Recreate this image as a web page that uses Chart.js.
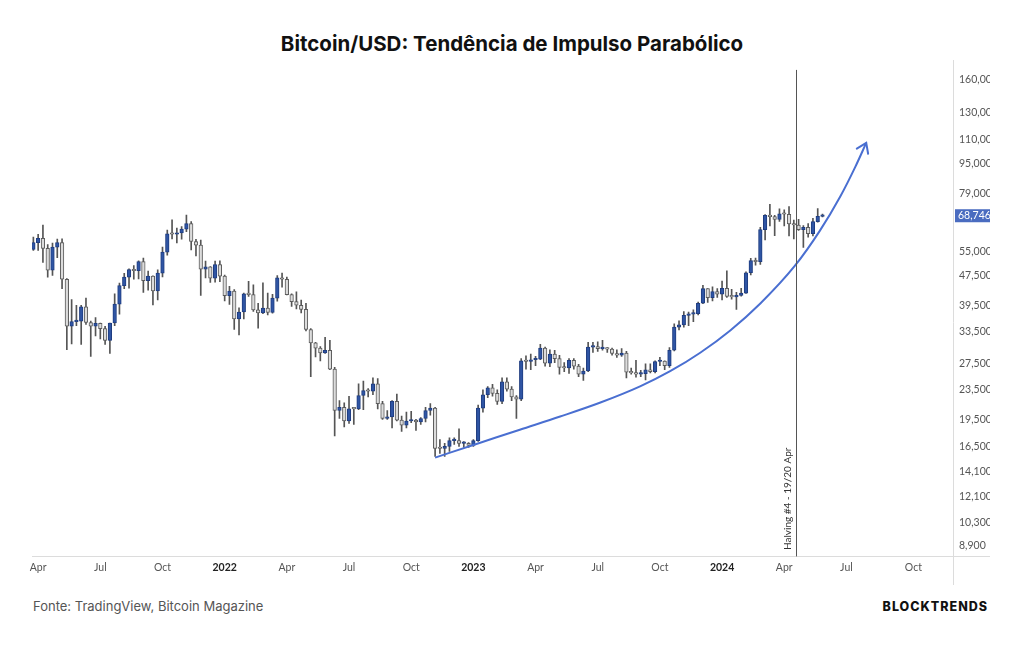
<!DOCTYPE html>
<html lang="pt">
<head>
<meta charset="UTF-8">
<title>Bitcoin/USD: Tendência de Impulso Parabólico</title>
<script src="https://cdn.jsdelivr.net/npm/chart.js@4"></script>
<style>
  body { margin: 0; background: #fff; width: 1024px; height: 645px; overflow: hidden; position: relative; font-family: Inter, "Noto Sans", sans-serif; }
  .title { position: absolute; top: 31px; left: 0; width: 1024px; text-align: center; font-size: 20.5px; font-weight: 700; color: #111; }
  .chart-box { position: absolute; left: 0; top: 58px; width: 990px; height: 532px; }
  .source { position: absolute; left: 33px; top: 598px; font-size: 13px; color: #555; }
  .brand { position: absolute; right: 36px; top: 599px; font-size: 12.5px; font-weight: 800; letter-spacing: 1px; color: #111; }
</style>
</head>
<body>
<div class="title">Bitcoin/USD: Tendência de Impulso Parabólico</div>
<div class="chart-box"><canvas id="btc"></canvas></div>
<div class="source">Fonte: TradingView, Bitcoin Magazine</div>
<div class="brand">BLOCKTRENDS</div>

<script>
// weekly candles, first week starts Monday 2021-03-29 (values in USD thousands)
const firstWeek = '2021-03-29';
const opens = [
  55.8, 58.2, 59.8, 56.2, 49.1, 56.6, 58.2, 46.4, 34.7, 35.7, 35.8, 39.1, 35.5, 34.7, 35.3, 34.2, 31.8, 35.4, 39.8, 44.6,
  47.0, 49.3, 48.9, 51.8, 46.0, 47.3, 43.2, 48.2, 54.9, 61.5, 61.3, 61.8, 63.3, 65.5, 58.6, 57.3, 49.4, 50.1, 46.7, 50.8,
  47.3, 41.9, 43.1, 36.3, 37.9, 42.4, 42.2, 38.4, 37.7, 38.8, 37.8, 41.3, 46.8, 46.4, 42.2, 40.4, 39.5, 38.5, 34.0, 31.3,
  30.3, 29.4, 29.9, 26.6, 20.6, 21.0, 19.3, 20.85, 20.8, 22.6, 23.3, 23.2, 24.3, 21.5, 19.6, 19.8, 21.8, 19.4, 18.8, 19.3,
  19.4, 19.2, 19.6, 20.6, 20.9, 16.3, 16.3, 16.5, 17.1, 17.1, 16.8, 16.8, 16.6, 17.1, 20.9, 22.7, 23.7, 22.9, 21.8, 24.6,
  23.5, 22.4, 22.1, 28.0, 27.9, 28.2, 28.3, 30.3, 27.6, 29.2, 28.4, 26.9, 26.8, 28.1, 27.1, 25.8, 26.3, 30.5, 30.6, 30.2,
  30.3, 30.1, 29.3, 29.0, 29.4, 26.1, 26.0, 25.8, 25.85, 26.5, 26.2, 27.9, 27.95, 27.2, 29.9, 34.5, 35.0, 37.1, 37.4, 37.5,
  40.0, 43.8, 41.4, 43.0, 42.3, 43.9, 41.7, 41.6, 42.0, 42.6, 48.3, 52.1, 51.7, 63.1, 68.9, 68.4, 67.2, 69.6, 69.4, 65.4,
  64.9, 63.1, 64.0, 61.5, 66.3, 68.5
];
const highs = [
  60.2, 61.3, 64.9, 57.5, 58.0, 59.5, 59.6, 46.6, 40.9, 39.5, 39.5, 41.3, 35.8, 36.6, 35.4, 34.7, 35.4, 42.4, 45.3, 48.1,
  49.5, 50.5, 52.0, 52.9, 48.8, 47.4, 49.2, 56.6, 62.9, 67.0, 63.7, 64.3, 69.0, 66.3, 59.4, 59.1, 51.9, 50.2, 51.9, 52.0,
  47.6, 44.4, 43.5, 38.9, 42.6, 45.8, 44.8, 40.0, 45.4, 42.6, 42.3, 47.5, 48.2, 47.0, 42.4, 42.9, 40.8, 40.0, 34.2, 31.4,
  30.6, 32.4, 31.8, 26.9, 21.9, 21.6, 22.5, 21.0, 24.3, 24.7, 23.6, 25.2, 25.1, 21.8, 20.6, 21.9, 22.8, 19.9, 20.4, 20.5,
  19.5, 19.7, 21.0, 21.5, 21.0, 17.2, 16.8, 17.4, 17.4, 18.4, 17.0, 16.9, 17.2, 21.3, 23.4, 23.9, 24.2, 23.4, 25.2, 25.2,
  23.9, 22.6, 28.4, 28.9, 29.2, 28.8, 31.0, 30.5, 30.0, 29.9, 29.0, 27.7, 28.4, 28.4, 27.4, 26.8, 31.4, 31.4, 31.5, 31.8,
  30.4, 30.3, 30.0, 30.2, 29.7, 26.8, 28.1, 26.4, 27.5, 27.5, 28.0, 28.6, 28.0, 30.4, 35.2, 35.9, 38.0, 37.9, 38.4, 40.3,
  44.7, 43.8, 44.3, 43.8, 45.9, 48.9, 43.6, 42.8, 43.9, 48.6, 52.8, 52.9, 64.0, 69.2, 73.8, 68.9, 71.7, 71.3, 72.8, 66.9,
  67.2, 64.7, 65.5, 67.7, 71.9, 69.5
];
const lows = [
  55.5, 55.5, 51.5, 47.0, 47.5, 53.0, 43.8, 30.0, 31.1, 34.8, 31.0, 35.1, 28.8, 32.7, 32.1, 31.0, 29.3, 34.8, 37.4, 43.8,
  43.9, 46.4, 46.5, 42.8, 43.4, 39.6, 40.8, 47.1, 53.9, 59.6, 58.1, 59.5, 62.3, 55.6, 53.6, 42.0, 46.8, 45.5, 45.6, 45.7,
  40.6, 39.7, 34.0, 32.9, 36.3, 41.7, 38.0, 34.3, 37.5, 37.2, 37.6, 40.5, 44.2, 42.1, 39.2, 38.6, 37.7, 33.7, 25.4, 28.7,
  28.0, 29.3, 26.5, 17.6, 19.6, 18.6, 19.0, 18.9, 20.7, 20.7, 22.4, 22.7, 20.8, 19.5, 19.5, 18.5, 19.3, 18.1, 18.5, 19.1,
  18.2, 18.9, 19.2, 20.0, 15.5, 15.8, 15.5, 16.0, 16.7, 16.5, 16.4, 16.4, 16.5, 17.0, 20.4, 22.3, 22.5, 21.4, 21.5, 23.2,
  21.9, 19.6, 21.9, 26.6, 26.5, 27.2, 28.2, 27.1, 27.0, 27.7, 25.8, 26.2, 25.9, 26.6, 25.4, 24.8, 26.2, 29.5, 29.7, 29.9,
  29.5, 29.0, 28.6, 28.8, 25.2, 25.8, 25.3, 25.4, 24.9, 26.0, 26.0, 27.2, 26.5, 26.9, 29.8, 33.9, 34.5, 34.8, 35.7, 37.2,
  39.9, 40.2, 40.6, 41.5, 40.8, 41.5, 41.0, 38.5, 41.8, 42.5, 47.7, 50.6, 50.9, 59.2, 64.5, 60.8, 66.4, 64.5, 60.7, 59.6,
  62.8, 56.5, 60.2, 60.7, 66.1, 68.2
];
const closes = [
  58.2, 59.8, 56.2, 49.1, 56.6, 58.2, 46.4, 34.7, 35.7, 35.8, 39.1, 35.5, 34.7, 35.3, 34.2, 31.8, 35.4, 39.8, 44.6, 47.0,
  49.3, 48.9, 51.8, 46.0, 47.3, 43.2, 48.2, 54.9, 61.5, 61.3, 61.8, 63.3, 65.5, 58.6, 57.3, 49.4, 50.1, 46.7, 50.8, 47.3,
  41.9, 43.1, 36.3, 37.9, 42.4, 42.2, 38.4, 37.7, 38.8, 37.8, 41.3, 46.8, 46.4, 42.2, 40.4, 39.5, 38.5, 34.0, 31.3, 30.3,
  29.4, 29.9, 26.6, 20.6, 21.0, 19.3, 20.8, 20.8, 22.6, 23.3, 23.2, 24.3, 21.5, 19.6, 19.8, 21.8, 19.4, 18.8, 19.3, 19.4,
  19.2, 19.6, 20.6, 20.9, 16.3, 16.28, 16.5, 17.1, 17.13, 16.8, 16.8, 16.6, 17.1, 20.9, 22.7, 23.7, 22.9, 21.8, 24.6, 23.5,
  22.4, 22.1, 28.0, 27.9, 28.2, 28.3, 30.3, 27.6, 29.2, 28.4, 26.9, 26.8, 28.1, 27.1, 25.8, 26.3, 30.5, 30.6, 30.2, 30.3,
  30.1, 29.3, 29.0, 29.4, 26.1, 26.0, 25.8, 25.85, 26.5, 26.2, 27.9, 27.95, 27.2, 29.9, 34.5, 35.0, 37.1, 37.4, 37.5, 40.0,
  43.8, 41.4, 43.0, 42.3, 43.9, 41.7, 41.6, 42.0, 42.6, 48.3, 52.1, 51.7, 63.1, 68.9, 68.4, 67.2, 69.6, 69.4, 65.4, 64.9,
  63.1, 64.0, 61.5, 66.3, 68.5, 68.746
];

// time axis labels (first weekly bar of each quarter)
const tickDates = ['2021-04-05', '2021-07-05', '2021-10-04', '2022-01-03', '2022-04-04', '2022-07-04', '2022-10-03',
  '2023-01-02', '2023-04-03', '2023-07-03', '2023-10-02', '2024-01-01', '2024-04-01', '2024-07-01', '2024-10-07'];
const tickLabels = ['Apr', 'Jul', 'Oct', '2022', 'Apr', 'Jul', 'Oct', '2023', 'Apr', 'Jul', 'Oct', '2024', 'Apr', 'Jul', 'Oct'];

// price axis labels
const priceTicks = [8900, 10300, 12100, 14100, 16500, 19500, 23500, 27500, 33500, 39500, 47500, 55000,
  79000, 95000, 110000, 130000, 160000];

// hand-drawn parabolic trend curve
const curveDates = ['2022-11-07', '2023-01-12', '2023-03-11', '2023-05-09', '2023-07-06', '2023-09-03', '2023-10-17',
  '2023-11-30', '2024-01-13', '2024-02-26', '2024-04-17', '2024-05-23', '2024-06-22', '2024-07-14', '2024-07-30'];
const curvePrices = [15390, 16870, 18290, 19840, 21600, 23910, 26260, 29450, 33810, 39950, 50550, 62590, 77430,
  93040, 107900];

const halvingDate = '2024-04-19';
const halvingText = 'Halving #4 - 19/20 Apr';

const UP = '#2f55a4', UP_EDGE = '#1f3d80';
const DOWN = '#dcdcdc', DOWN_EDGE = '#5c5c5c';
const WICK = '#555';
const CURVE = '#4a6fd1';

const DAY0 = Date.UTC(2021, 0, 1);
const dayOf = s => (Date.parse(s + 'T00:00:00Z') - DAY0) / 86400000;
const week0 = dayOf(firstWeek);

const bodies = [], wicks = [], fills = [], edges = [];
opens.forEach((o, i) => {
  const x = week0 + 7 * i;
  const c = closes[i];
  bodies.push({ x: x, y: [o * 1000, c * 1000] });
  wicks.push({ x: x, y: [lows[i] * 1000, highs[i] * 1000] });
  fills.push(c >= o ? UP : DOWN);
  edges.push(c >= o ? UP_EDGE : DOWN_EDGE);
});
const curve = curveDates.map((d, i) => ({ x: dayOf(d), y: curvePrices[i] }));
const tickDays = tickDates.map(dayOf);
const lastPrice = closes[closes.length - 1] * 1000;

const fmt = v => Math.round(v).toLocaleString('en-US');

const extras = {
  id: 'extras',
  beforeDatasetsDraw(chart) {
    // TradingView-style frame: price axis line and time axis line run past the plot
    const { ctx, chartArea: a } = chart;
    ctx.save();
    ctx.strokeStyle = '#dcdcdc';
    ctx.lineWidth = 1;
    ctx.beginPath();
    ctx.moveTo(Math.round(a.right) + 0.5, 2);
    ctx.lineTo(Math.round(a.right) + 0.5, a.bottom + 29);
    ctx.moveTo(a.left, Math.round(a.bottom) + 0.5);
    ctx.lineTo(chart.width, Math.round(a.bottom) + 0.5);
    ctx.stroke();
    ctx.restore();
  },
  afterDatasetsDraw(chart) {
    const { ctx, chartArea: a, scales: { x, y } } = chart;
    // arrow head at the end of the trend curve
    const pts = chart.getDatasetMeta(0).data;
    const p1 = pts[pts.length - 1], p0 = pts[pts.length - 2];
    const ang = Math.atan2(p1.y - p0.y, p1.x - p0.x);
    ctx.save();
    ctx.strokeStyle = CURVE;
    ctx.lineWidth = 2;
    ctx.lineCap = 'round';
    ctx.beginPath();
    ctx.moveTo(p1.x - 11 * Math.cos(ang - 0.6), p1.y - 11 * Math.sin(ang - 0.6));
    ctx.lineTo(p1.x, p1.y);
    ctx.lineTo(p1.x - 11 * Math.cos(ang + 0.6), p1.y - 11 * Math.sin(ang + 0.6));
    ctx.stroke();

    // halving marker
    const hx = Math.round(x.getPixelForValue(dayOf(halvingDate))) - 0.5;
    ctx.strokeStyle = '#555';
    ctx.lineWidth = 1;
    ctx.beginPath();
    ctx.moveTo(hx, a.top);
    ctx.lineTo(hx, a.bottom);
    ctx.stroke();
    ctx.translate(hx - 9, a.bottom - 6);
    ctx.rotate(-Math.PI / 2);
    ctx.fillStyle = '#333';
    ctx.font = '10px Lato, sans-serif';
    ctx.textAlign = 'left';
    ctx.textBaseline = 'middle';
    ctx.fillText(halvingText, 0, 0);
    ctx.restore();

    // last price tag
    const py = y.getPixelForValue(lastPrice);
    ctx.save();
    ctx.fillStyle = '#4a6cc0';
    ctx.fillRect(a.right + 2, py - 6.5, 36, 13);
    ctx.fillStyle = '#fff';
    ctx.font = '10.5px Lato, sans-serif';
    ctx.textBaseline = 'middle';
    ctx.fillText(fmt(lastPrice), a.right + 5, py);
    ctx.restore();
  }
};

new Chart(document.getElementById('btc'), {
  type: 'bar',
  data: {
    datasets: [
      {
        type: 'line', data: curve, order: 0,
        borderColor: CURVE, borderWidth: 2, pointRadius: 0,
        cubicInterpolationMode: 'monotone', fill: false
      },
      {
        data: bodies, order: 1, grouped: false,
        backgroundColor: fills, borderColor: edges, borderWidth: 1,
        barThickness: 3.6, minBarLength: 1.5, borderSkipped: false
      },
      {
        data: wicks, order: 2, grouped: false,
        backgroundColor: WICK, borderWidth: 0, barThickness: 1
      }
    ]
  },
  options: {
    responsive: true,
    maintainAspectRatio: false,
    animation: false,
    layout: { padding: { left: 32, top: 10, right: 0, bottom: 0 } },
    plugins: { legend: { display: false }, tooltip: { enabled: false } },
    scales: {
      x: {
        type: 'linear', offset: false,
        min: 85, max: 1433,
        grid: { display: false, drawTicks: false },
        border: { display: false },
        afterBuildTicks: s => { s.ticks = tickDays.map(v => ({ value: v })); },
        afterFit: s => { s.height = 34; },
        ticks: {
          autoSkip: false, maxRotation: 0, padding: 5,
          color: ctx => /^\d{4}$/.test(tickLabels[ctx.index]) ? '#222' : '#555',
          font: ctx => ({ family: 'Lato, sans-serif', size: 10.5, weight: /^\d{4}$/.test(tickLabels[ctx.index]) ? 'bold' : 'normal' }),
          callback: (v, i) => tickLabels[i]
        }
      },
      y: {
        type: 'logarithmic', position: 'right',
        min: 8370, max: 169100,
        grid: { display: false, drawTicks: false },
        border: { display: false },
        afterBuildTicks: s => { s.ticks = priceTicks.map(v => ({ value: v })); },
        afterFit: s => { s.width = 37; },
        ticks: {
          padding: 6, color: '#555',
          font: { family: 'Lato, sans-serif', size: 10.5 },
          callback: v => fmt(v)
        }
      }
    }
  },
  plugins: [extras]
});
</script>
</body>
</html>
